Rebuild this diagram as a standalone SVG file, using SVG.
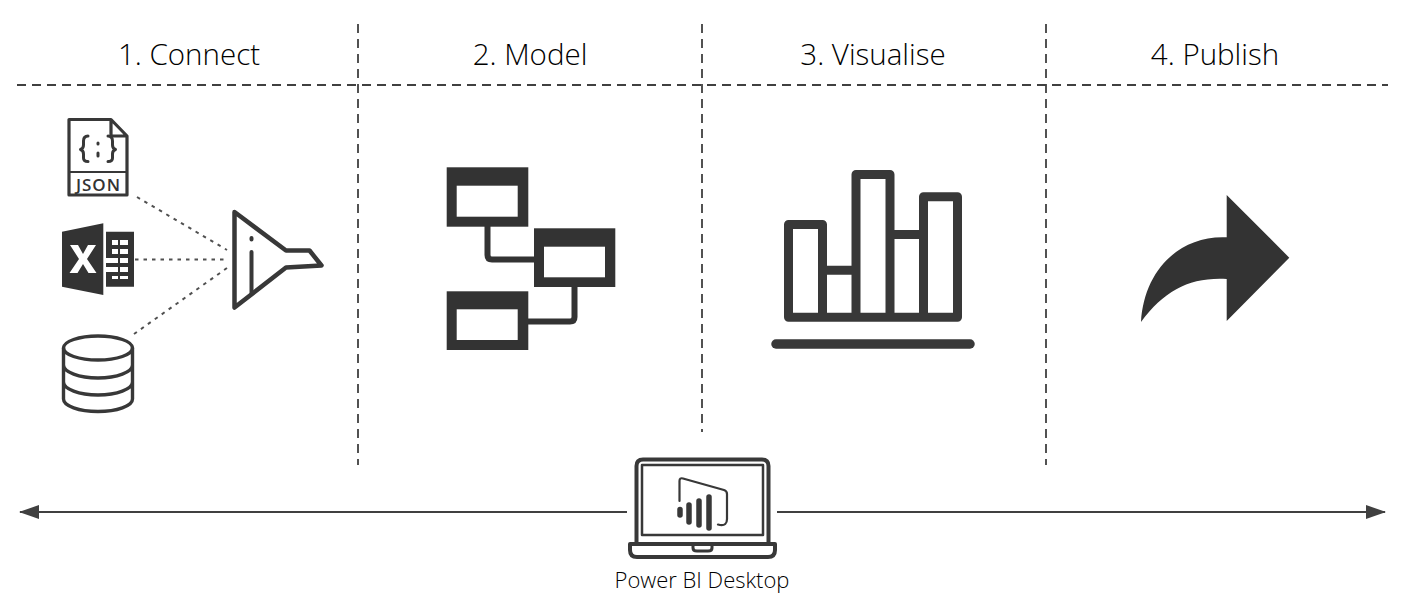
<svg xmlns="http://www.w3.org/2000/svg" width="1416" height="604" viewBox="0 0 1416 604">
<style>
.t{font-family:"Open Sans","Noto Sans",sans-serif;fill:#000;text-anchor:middle;font-weight:300}
.h{font-size:29.500px}
.d{fill:none;stroke:#404040;stroke-width:1.800;stroke-dasharray:9 6}
.o{fill:none;stroke:#383838;stroke-linejoin:round;stroke-linecap:round}
.f{fill:#333}
.w{fill:#fff}
.dot{fill:none;stroke:#505050;stroke-width:2;stroke-dasharray:3.500 5}
.ar{fill:none;stroke:#404040;stroke-width:2}
</style>
<defs>
<marker id="ah" markerUnits="userSpaceOnUse" markerWidth="20" markerHeight="14" refX="19" refY="7" orient="auto-start-reverse"><path d="M0 0L20 7L0 14Z" fill="#404040"/></marker>
</defs>
<rect width="1416" height="604" fill="#fff"/>
<g id="connectors">
<path class="d" d="M17 85H1388"/>
<path class="d" d="M358 24V465"/>
<path class="d" d="M702 24V432"/>
<path class="d" d="M1046 24V465"/>
<path class="dot" d="M137 197L227 250"/>
<path class="dot" d="M135 259.500H227"/>
<path class="dot" d="M134 334L227 268"/>
<path class="ar" d="M627 512H20" marker-end="url(#ah)"/>
<path class="ar" d="M777 512H1385" marker-end="url(#ah)"/>
</g>
<g id="heading-connect"><text class="t h" x="189" y="65">1. Connect</text></g>
<g id="heading-model"><text class="t h" x="530" y="65">2. Model</text></g>
<g id="heading-visualise"><text class="t h" x="873" y="65">3. Visualise</text></g>
<g id="heading-publish"><text class="t h" x="1215" y="65">4. Publish</text></g>
<g id="json">
<path class="o" stroke-width="3.200" d="M69 119.500H111L127 136V195H69ZM111 119.500V136H127"/>
<path stroke="#383838" stroke-width="2" d="M69 172H127"/>
<path class="o" stroke-width="3" d="M88 136Q83.500 136 83.500 141V145Q83.500 148.500 80.500 149.500Q83.500 150.500 83.500 154V158Q83.500 161.500 88 161.500M108 136Q112.500 136 112.500 141V145Q112.500 148.500 115.500 149.500Q112.500 150.500 112.500 154V158Q112.500 161.500 108 161.500M98 143V144M98 153V156"/>
<text x="98.500" y="190.500" font-family="'Open Sans',sans-serif" font-size="17" font-weight="600" letter-spacing="1" text-anchor="middle" fill="#333">JSON</text>
</g>
<g id="excel">
<path class="f" d="M62 231.700L103.300 223.300V295L62 286.700Z"/>
<path class="f" d="M106 231.700H134V286.700H106Z"/>
<path class="w" d="M112 240H118V245H112ZM120 240H128V245H120ZM112 249H118V254H112ZM120 249H128V254H120ZM106 258H118V263H106ZM120 258H128V263H120ZM106 267H118V272H106ZM120 267H128V272H120ZM112 276H118V279H112ZM120 276H128V279H120Z"/>
<path class="w" d="M70 245H78L83 254L88 245H96L87 259L96.500 273H88.500L83 264L77.500 273H69.500L79 259Z"/>
</g>
<g id="database">
<ellipse class="o" stroke-width="3.400" cx="98" cy="348" rx="34.500" ry="12"/>
<path class="o" stroke-width="3.400" d="M63.500 348V399C63.500 406 79 411.500 98 411.500S132.500 406 132.500 399V348M63.500 365C63.500 372 79 378 98 378S132.500 372 132.500 365M63.500 382C63.500 389 79 395 98 395S132.500 389 132.500 382"/>
</g>
<g id="funnel">
<path class="o" stroke-width="4.500" d="M234.500 212L286 250.500H309.500L321.500 265.500L286 267.500L234.500 307.500Z"/>
<path class="o" stroke-width="4" d="M251.500 252V293M251.500 238V239.500"/>
</g>
<g id="model">
<rect class="f" x="446.700" y="167.300" width="81.600" height="59.400"/>
<rect class="w" x="456.700" y="185.700" width="61" height="31"/>
<rect class="f" x="534" y="228.300" width="81.300" height="58.700"/>
<rect class="w" x="544" y="246.700" width="61" height="30.600"/>
<rect class="f" x="446.700" y="291.300" width="81.600" height="58.700"/>
<rect class="w" x="456.700" y="309.300" width="61" height="30.700"/>
<path fill="none" stroke="#333" stroke-width="6" d="M487.500 226V255Q487.500 259.500 492 259.500H535M574.500 286V317Q574.500 321.500 570 321.500H527"/>
</g>
<g id="chart">
<path class="o" stroke-width="9" d="M788.500 317V224.500H822.500V317M822.500 270.200H856M856 317V174.500H890V317M890 234.500H923.500M923.500 317V196.800H957.500V317.200H788.500"/>
<path class="o" stroke-width="9.500" d="M776 344H970"/>
</g>
<g id="publish">
<path class="f" d="M1226.700 195L1289.300 257.700L1226.700 321V279C1190 277 1165 290 1141 322C1144 270 1180 235 1226.700 237.300Z"/>
</g>
<g id="laptop">
<path class="o" stroke-width="4" d="M636.500 543V466Q636.500 459.500 643 459.500H762Q768.500 459.500 768.500 466V543"/>
<rect class="o" stroke-width="2.500" x="642" y="465" width="121" height="70"/>
<path class="o" stroke-width="4" d="M630 544H775V550Q775 557 768 557H637Q630 557 630 550Z"/>
<path class="o" stroke-width="3" d="M693 545V548Q693 551 697 551H708Q712 551 712 548V545"/>
<path class="o" stroke="#111" stroke-width="2.200" d="M679.500 501V481Q679.500 477.500 683 478.500L724 490Q727 491 727 494V519Q727 526 720 525L718 524.500"/>
<path class="o" stroke="#111" stroke-width="5.500" d="M680 509.500V515"/>
<path class="o" stroke="#111" stroke-width="5.500" d="M689 505V522"/>
<path class="o" stroke="#111" stroke-width="5.500" d="M699 501V525"/>
<path class="o" stroke="#111" stroke-width="5.500" d="M709 497V528"/>
</g>
<g id="label-desktop"><text class="t" x="702" y="588" font-size="22">Power BI Desktop</text></g>
</svg>
